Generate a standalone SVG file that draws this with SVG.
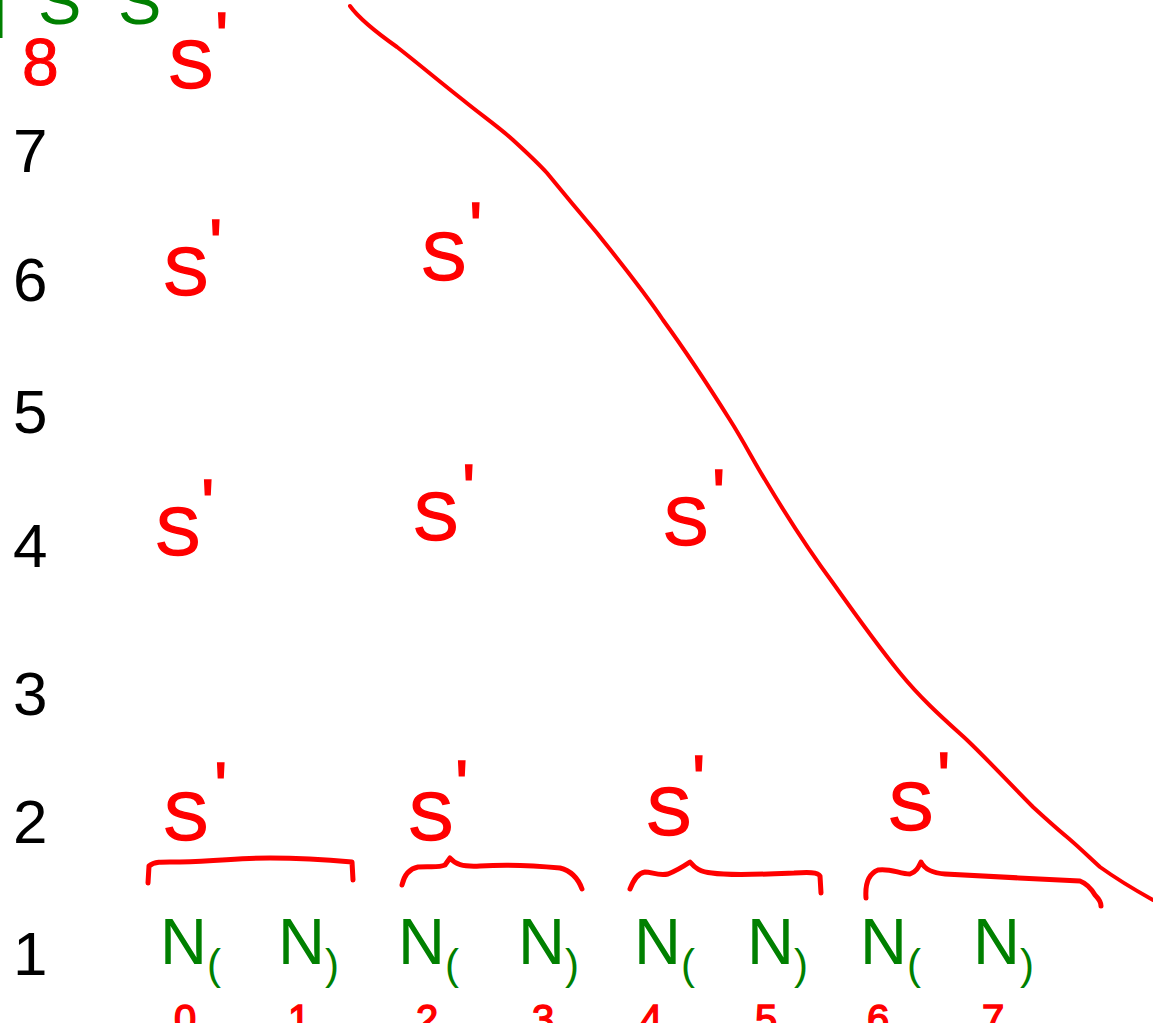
<svg xmlns="http://www.w3.org/2000/svg" width="1153" height="1023" viewBox="0 0 1153 1023">
<style>
.ax{font-family:"Liberation Sans",Arial,sans-serif;font-size:62px;fill:#000}
.g{font-family:"Liberation Sans",Arial,sans-serif;font-size:65px;fill:#008000}
.gs{font-family:"Liberation Sans",Arial,sans-serif;font-size:42px;fill:#008000}
.sp{font-family:"Liberation Sans",Arial,sans-serif;font-size:68px;fill:#ff0000;stroke:#ff0000;stroke-width:1.5}
.rd{font-family:"Liberation Sans",Arial,sans-serif;font-size:40px;fill:#ff0000;stroke:#ff0000;stroke-width:1.5}
.ln{fill:none;stroke:#ff0000;stroke-linecap:round;stroke-linejoin:round;stroke-width:5}
</style>
<rect width="1153" height="1023" fill="#fff"/>
<g id="top-green">
<line x1="1" y1="0" x2="1" y2="38" stroke="#008000" stroke-width="3"/>
<text class="g" x="38" y="24">S</text>
<text class="g" x="118" y="24">S</text>
</g>
<g id="axis">
<text class="rd" x="22" y="85" style="font-size:66px;stroke-width:1">8</text>
<text class="ax" x="13" y="172">7</text>
<text class="ax" x="13" y="301">6</text>
<text class="ax" x="13" y="433">5</text>
<text class="ax" x="13" y="567">4</text>
<text class="ax" x="13" y="715">3</text>
<text class="ax" x="13" y="843">2</text>
<text class="ax" x="13" y="975">1</text>
</g>
<g id="connectors">
<path class="ln" style="stroke-width:4" d="M350,6 C360,20 380,35 397,47 C420,65 440,82 463,100 C480,114 500,128 513,140 C525,151 537,162 547,173 C565,195 580,213 597,233 C620,262 643,290 663,320 C687,353 708,385 730,420 C744,442 754,462 767,483 C788,518 810,552 833,583 C855,614 877,645 900,673 C922,700 945,720 967,740 C990,762 1012,786 1033,807 C1045,818 1056,828 1067,837 C1080,848 1090,858 1100,867 C1118,880 1135,890 1153,900"/>
<path class="ln" d="M148,883 L149,866 C155,861 165,862 180,862 C220,861 240,858 270,858 C300,858 330,860 352,862 L353,880"/>
<path class="ln" d="M402,885 C404,876 408,869 418,867 C430,866 438,868 445,865 L450,858 C455,864 462,867 480,866 C510,864 540,866 560,868 C572,871 578,878 582,889"/>
<path class="ln" d="M630,889 C634,879 638,873 645,872 C652,872 658,876 668,874 C678,870 684,866 690,862 C695,868 700,872 712,873 C730,876 770,874 794,873 C808,872 818,872 820,876 L821,893"/>
<path class="ln" d="M866,898 C865,884 868,874 878,870 C890,868 900,874 910,874 C916,872 918,868 921,862 C924,868 930,873 945,874 C980,876 1040,879 1080,881 C1088,884 1092,890 1095,895 C1099,899 1101,902 1101,906"/>
</g>
<g id="s-top"><text class="sp" x="168" y="88">S<tspan dx="2" dy="-28">'</tspan></text></g>
<g id="s-6a"><text class="sp" x="163" y="295">S<tspan dx="1" dy="-28">'</tspan></text></g>
<g id="s-6b"><text class="sp" x="421" y="280">S<tspan dx="3" dy="-30">'</tspan></text></g>
<g id="s-4a"><text class="sp" x="155" y="555">S<tspan dx="1" dy="-28">'</tspan></text></g>
<g id="s-4b"><text class="sp" x="413" y="540">S<tspan dx="4" dy="-28">'</tspan></text></g>
<g id="s-4c"><text class="sp" x="663" y="545">S<tspan dx="4" dy="-28">'</tspan></text></g>
<g id="s-2a"><text class="sp" x="163" y="840">S<tspan dx="6" dy="-30">'</tspan></text></g>
<g id="s-2b"><text class="sp" x="408" y="840">S<tspan dx="2" dy="-32">'</tspan></text></g>
<g id="s-2c"><text class="sp" x="646" y="835">S<tspan dx="1" dy="-32">'</tspan></text></g>
<g id="s-2d"><text class="sp" x="888" y="830">S<tspan dx="4" dy="-30">'</tspan></text></g>
<g id="n0"><text class="g" x="160" y="964">N</text><text class="gs" x="207" y="979">(</text><text class="rd" x="174" y="1033">0</text></g>
<g id="n1"><text class="g" x="278" y="964">N</text><text class="gs" x="325" y="979">)</text><text class="rd" x="288" y="1033">1</text></g>
<g id="n2"><text class="g" x="398" y="964">N</text><text class="gs" x="445" y="979">(</text><text class="rd" x="416" y="1033">2</text></g>
<g id="n3"><text class="g" x="518" y="964">N</text><text class="gs" x="565" y="979">)</text><text class="rd" x="532" y="1033">3</text></g>
<g id="n4"><text class="g" x="634" y="964">N</text><text class="gs" x="681" y="979">(</text><text class="rd" x="640" y="1033">4</text></g>
<g id="n5"><text class="g" x="747" y="964">N</text><text class="gs" x="794" y="979">)</text><text class="rd" x="755" y="1033">5</text></g>
<g id="n6"><text class="g" x="860" y="964">N</text><text class="gs" x="907" y="979">(</text><text class="rd" x="867" y="1033">6</text></g>
<g id="n7"><text class="g" x="973" y="964">N</text><text class="gs" x="1020" y="979">)</text><text class="rd" x="982" y="1033">7</text></g>
</svg>
